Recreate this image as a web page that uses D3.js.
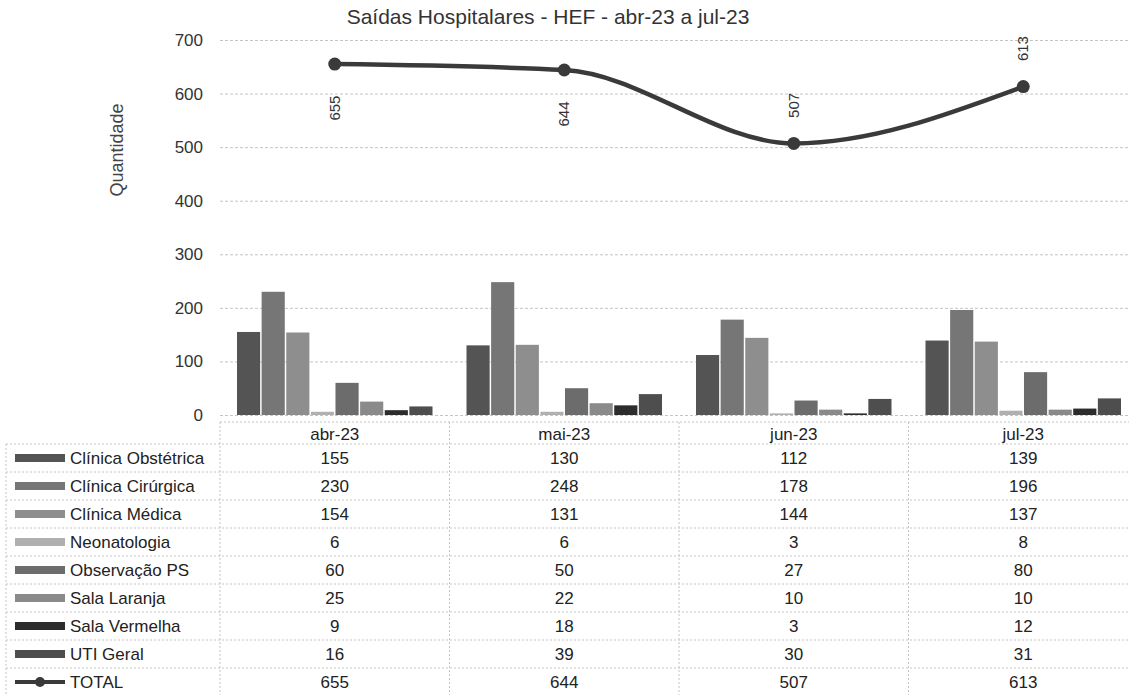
<!doctype html>
<head>
  <meta charset="utf-8">
  <script src="https://cdnjs.cloudflare.com/ajax/libs/d3/7.8.5/d3.min.js"></script>
</head>
<style>
    body { margin: 0; background: #fff; }
    svg { font-family: "Liberation Sans", Arial, sans-serif; }
</style>
<body>
    <div id="chart"></div>
    <script>
        // Datos
        const months = ["abr-23", "mai-23", "jun-23", "jul-23"];
        const seriesNames = ["Clínica Obstétrica", "Clínica Cirúrgica", "Clínica Médica", "Neonatologia",
                             "Observação PS", "Sala Laranja", "Sala Vermelha", "UTI Geral"];
        const clinicaObstetrica = [155, 130, 112, 139];
        const clinicaCirurgica = [230, 248, 178, 196];
        const clinicaMedica = [154, 131, 144, 137];
        const neonatologia = [6, 6, 3, 8];
        const observacaoPS = [60, 50, 27, 80];
        const salaLaranja = [25, 22, 10, 10];
        const salaVermelha = [9, 18, 3, 12];
        const utiGeral = [16, 39, 30, 31];
        const total = [655, 644, 507, 613];
        const yTicks = [0, 100, 200, 300, 400, 500, 600, 700];

        const seriesValues = [clinicaObstetrica, clinicaCirurgica, clinicaMedica, neonatologia,
                              observacaoPS, salaLaranja, salaVermelha, utiGeral];
        const colors = ["#545454", "#767676", "#8e8e8e", "#b0b0b0", "#6c6c6c", "#8a8a8a", "#2c2c2c", "#4e4e4e"];

        const width = 1129, height = 695;
        const plotLeft = 220, plotRight = 1138;
        const rowH = 28, headTop = 422, bodyTop = 444;
        const gridColor = "#c4c4c4";
        const tableFont = 17;

        const svg = d3.select("#chart").append("svg")
            .attr("width", width).attr("height", height);

        const x0 = d3.scaleBand().domain(months).range([plotLeft, plotRight]);
        const x1 = d3.scaleBand().domain(seriesNames).range([17, x0.bandwidth() - 17]).paddingInner(0.06);
        const y = d3.scaleLinear().domain([0, 700]).range([415, 40]);

        // Título
        svg.append("text")
            .attr("x", 548).attr("y", 24)
            .attr("text-anchor", "middle")
            .attr("font-size", 21).attr("fill", "#333")
            .text("Saídas Hospitalares - HEF - abr-23 a jul-23");

        // Eje Y
        const yAxis = svg.append("g")
            .attr("transform", `translate(${plotLeft},0)`)
            .call(d3.axisLeft(y).tickValues(yTicks).tickSize(-(width - plotLeft)).tickPadding(17));
        yAxis.select(".domain").remove();
        yAxis.selectAll(".tick line").attr("stroke", gridColor).attr("stroke-dasharray", "3,2");
        yAxis.selectAll(".tick text").attr("font-size", 17).attr("fill", "#333")
            .attr("font-family", "Liberation Sans, Arial, sans-serif");

        svg.append("text")
            .attr("transform", "translate(123,150) rotate(-90)")
            .attr("text-anchor", "middle")
            .attr("font-size", 18).attr("fill", "#444")
            .text("Quantidade");

        // Barras
        const groups = svg.selectAll(".month")
            .data(months)
            .enter().append("g")
            .attr("transform", (d) => `translate(${x0(d)},0)`);

        groups.selectAll("rect")
            .data((m, mi) => seriesNames.map((s, si) => ({ s, si, v: seriesValues[si][mi] })))
            .enter().append("rect")
            .attr("x", (d) => x1(d.s))
            .attr("width", x1.bandwidth())
            .attr("y", (d) => y(d.v))
            .attr("height", (d) => y(0) - y(d.v))
            .attr("fill", (d) => colors[d.si]);

        // Línea TOTAL
        const xc = (i) => x0(months[i]) + x0.bandwidth() / 2;
        const line = d3.line()
            .x((d, i) => xc(i))
            .y((d) => y(d))
            .curve(d3.curveMonotoneX);

        svg.append("path")
            .datum(total)
            .attr("d", line)
            .attr("fill", "none")
            .attr("stroke", "#3a3a3a")
            .attr("stroke-width", 4.5);

        svg.selectAll(".dot")
            .data(total)
            .enter().append("circle")
            .attr("cx", (d, i) => xc(i))
            .attr("cy", (d) => y(d))
            .attr("r", 6.5)
            .attr("fill", "#3a3a3a");

        svg.selectAll(".lbl")
            .data(total)
            .enter().append("text")
            .attr("transform", (d, i) => {
                const below = d >= 640;
                const ty = below ? y(d) + 44 : y(d) - 38;
                return `translate(${xc(i) + 5},${ty}) rotate(-90)`;
            })
            .attr("text-anchor", "middle")
            .attr("font-size", 15).attr("fill", "#333")
            .text((d) => d);

        // Tabla de datos
        const table = svg.append("g");
        const rows = seriesNames.length + 1;
        const dotted = (sel) => sel.attr("stroke", gridColor).attr("stroke-dasharray", "2,2").attr("stroke-width", 1);

        table.append("line").attr("x1", plotLeft).attr("x2", width).attr("y1", headTop).attr("y2", headTop).call(dotted);
        d3.range(rows + 1).forEach((r) => {
            table.append("line").attr("x1", 6).attr("x2", width)
                .attr("y1", bodyTop + r * rowH).attr("y2", bodyTop + r * rowH).call(dotted);
        });
        table.append("line").attr("x1", 6).attr("x2", 6).attr("y1", bodyTop).attr("y2", height).call(dotted);
        months.forEach((m) => {
            table.append("line").attr("x1", x0(m)).attr("x2", x0(m)).attr("y1", headTop).attr("y2", height).call(dotted);
        });

        table.selectAll(".head")
            .data(months)
            .enter().append("text")
            .attr("x", (d) => x0(d) + x0.bandwidth() / 2)
            .attr("y", headTop + 18)
            .attr("text-anchor", "middle")
            .attr("font-size", tableFont).attr("fill", "#222")
            .text((d) => d);

        const rowY = (r) => bodyTop + r * rowH + rowH / 2 + 6;

        seriesNames.forEach((s, si) => {
            table.append("rect")
                .attr("x", 15).attr("y", rowY(si) - 10)
                .attr("width", 50).attr("height", 8)
                .attr("fill", colors[si]);
            table.append("text")
                .attr("x", 70).attr("y", rowY(si))
                .attr("font-size", tableFont).attr("fill", "#222")
                .text(s);
            months.forEach((m, mi) => {
                table.append("text")
                    .attr("x", x0(m) + x0.bandwidth() / 2).attr("y", rowY(si))
                    .attr("text-anchor", "middle")
                    .attr("font-size", tableFont).attr("fill", "#222")
                    .text(seriesValues[si][mi]);
            });
        });

        const tr = seriesNames.length;
        table.append("line").attr("x1", 15).attr("x2", 65)
            .attr("y1", rowY(tr) - 6).attr("y2", rowY(tr) - 6)
            .attr("stroke", "#3a3a3a").attr("stroke-width", 4);
        table.append("circle").attr("cx", 40).attr("cy", rowY(tr) - 6).attr("r", 5).attr("fill", "#3a3a3a");
        table.append("text")
            .attr("x", 70).attr("y", rowY(tr))
            .attr("font-size", tableFont).attr("fill", "#222")
            .text("TOTAL");
        months.forEach((m, mi) => {
            table.append("text")
                .attr("x", x0(m) + x0.bandwidth() / 2).attr("y", rowY(tr))
                .attr("text-anchor", "middle")
                .attr("font-size", tableFont).attr("fill", "#222")
                .text(total[mi]);
        });
    </script>
</body>
